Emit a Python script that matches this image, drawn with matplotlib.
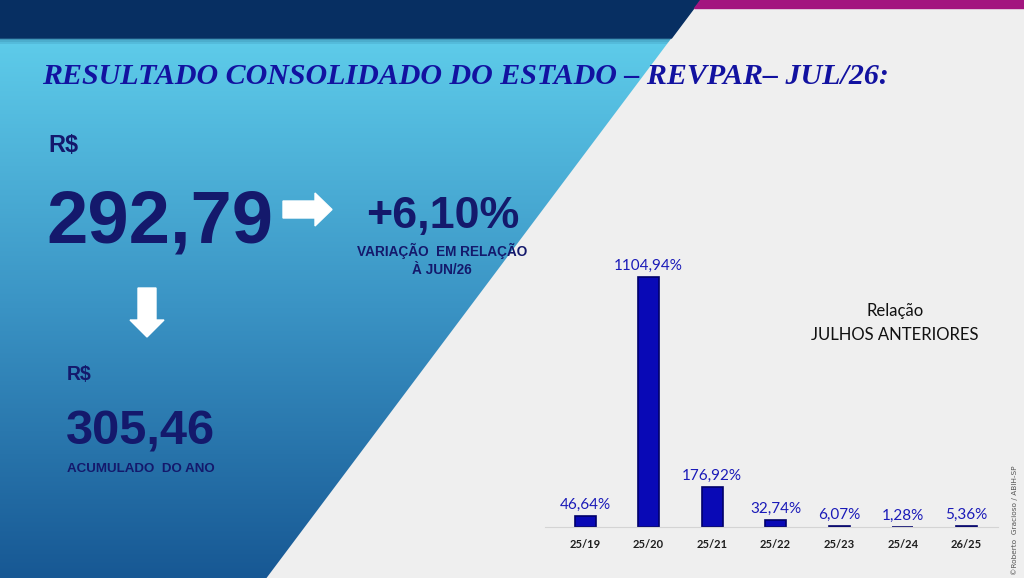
import matplotlib
matplotlib.use("Agg")
import matplotlib.pyplot as plt
import numpy as np
from matplotlib import font_manager
from matplotlib.font_manager import FontProperties
from matplotlib.patches import Polygon

# ---------------------------------------------------------------------------
# Data
# ---------------------------------------------------------------------------
periods = ["25/19", "25/20", "25/21", "25/22", "25/23", "25/24", "26/25"]
variation = [46.64, 1104.94, 176.92, 32.74, 6.07, 1.28, 5.36]
value_labels = ["46,64%", "1104,94%", "176,92%", "32,74%", "6,07%", "1,28%", "5,36%"]

title = "RESULTADO CONSOLIDADO DO ESTADO – REVPAR– JUL/26:"
revpar_month = "292,79"
revpar_var = "+6,10%"
revpar_year = "305,46"

W, H = 1024, 578
NAVY = "#14196c"


def narrow_bold():
    """Arial Narrow look-alike if installed, else Liberation Sans Bold."""
    for f in font_manager.fontManager.ttflist:
        if f.name == "Liberation Sans Narrow" and f.weight in (700, "bold") and f.style == "normal":
            return FontProperties(fname=f.fname)
    return FontProperties(family="Liberation Sans", weight="bold")


NB = narrow_bold()

fig = plt.figure(figsize=(W / 100, H / 100), dpi=100)
bg = fig.add_axes([0, 0, 1, 1])
bg.set_xlim(0, W); bg.set_ylim(H, 0); bg.axis("off")
bg.add_patch(plt.Rectangle((0, 0), W, H, color="#efefef", zorder=0))
renderer = fig.canvas.get_renderer()


def fit_text(s, x0, x1, y, **kw):
    """Left-aligned text on baseline y, sized so it spans x0..x1 pixels."""
    t = bg.text(x0, y, s, fontsize=10, va="baseline", zorder=3, **kw)
    w = t.get_window_extent(renderer).width
    t.set_fontsize(10 * (x1 - x0) / w)
    return t


# blue gradient triangle on the left, clipped by the diagonal
edge = lambda y: 700 - 0.75 * y
stops = np.array([[0x5e, 0xcc, 0xea], [0x3a, 0x93, 0xc4], [0x17, 0x58, 0x94]]) / 255
t = np.linspace(0, 1, 300)
grad = np.stack([np.interp(t, [0, 0.5, 1], stops[:, c]) for c in range(3)], axis=1)
img = bg.imshow(grad[:, None, :].repeat(2, axis=1), extent=(0, W, H, 38),
                aspect="auto", zorder=1)
tri = Polygon([(0, 38), (edge(38), 38), (edge(H), H), (0, H)], closed=True,
              transform=bg.transData, facecolor="none")
bg.add_patch(tri)
img.set_clip_path(tri)

# top bands
bg.add_patch(Polygon([(0, 0), (edge(0), 0), (edge(38), 38), (0, 38)],
                     color="#072f62", zorder=2))
for k, a in enumerate([0.35, 0.2, 0.1]):
    bg.add_patch(Polygon([(0, 38 + k * 2), (edge(38 + k * 2), 38 + k * 2),
                          (edge(40 + k * 2), 40 + k * 2), (0, 40 + k * 2)],
                         color="#0b3560", alpha=a, lw=0, zorder=2))
bg.add_patch(Polygon([(edge(0), 0), (W, 0), (W, 8), (edge(8), 8)],
                     color="#a3157f", zorder=2))

# title
fit_text(title, 42, 890, 84, family="Liberation Serif", weight="bold",
         style="italic", color="#1212a0")

# KPI block
fit_text("R$", 48, 78, 152, fontproperties=NB, color=NAVY)
fit_text(revpar_month, 46, 272, 243, fontproperties=NB, color=NAVY)
fit_text(revpar_var, 366, 520, 228, fontproperties=NB, color=NAVY)
fit_text("VARIAÇÃO  EM RELAÇÃO", 357, 527, 256, fontproperties=NB, color=NAVY)
fit_text("À JUN/26", 412, 472, 274, fontproperties=NB, color=NAVY)
fit_text("R$", 67, 92, 380, fontproperties=NB, color=NAVY)
fit_text(revpar_year, 66, 216, 444, fontproperties=NB, color=NAVY)
fit_text("ACUMULADO  DO ANO", 67, 215, 472, fontproperties=NB, color=NAVY)

# white arrows
bg.add_patch(Polygon([(283, 201), (315, 201), (315, 193), (332, 209.5), (315, 226),
                      (315, 218), (283, 218)], color="white", zorder=3))
bg.add_patch(Polygon([(138, 288), (156, 288), (156, 320), (164, 320), (147, 337),
                      (130, 320), (138, 320)], color="white", zorder=3))

# credit
bg.text(1015, 575, "©Roberto  Gracioso / ABIH-SP", rotation=90, fontsize=5.3,
        color="#555555", ha="center", va="bottom", family="DejaVu Sans", zorder=3)

# ---------------------------------------------------------------------------
# Bar chart
# ---------------------------------------------------------------------------
left, right, base, top = 545, 998, 527, 240
ax = fig.add_axes([left / W, 1 - base / H, (right - left) / W, (base - top) / H])
ax.patch.set_alpha(0)
x = np.arange(len(periods))
ax.bar(x, variation, width=0.33, color="#0909b6", edgecolor="#00006a",
       linewidth=1.2, zorder=2)
ax.set_xlim(-0.63, 6.5)
ax.set_ylim(0, 1104.94 * (base - top) / 250)
for xi, v, lab in zip(x, variation, value_labels):
    ax.annotate(lab, (xi, v), xytext=(0, 3), textcoords="offset points",
                ha="center", va="bottom", family="Lato", fontsize=11, color="#1a1ab8")
ax.set_xticks(x, periods)
ax.tick_params(axis="x", length=0, pad=9, labelsize=8)
for lbl in ax.get_xticklabels():
    lbl.set_fontweight("bold"); lbl.set_family("Lato"); lbl.set_color("#1e1e1e")
ax.set_yticks([])
for s in ["top", "left", "right"]:
    ax.spines[s].set_visible(False)
ax.spines["bottom"].set_color("#d4d4d4")

bg.text(895, 311, "Relação", family="Lato", fontsize=12, color="#111111",
        ha="center", va="center", zorder=3)
bg.text(895, 335, "JULHOS ANTERIORES", family="Lato", fontsize=12, color="#111111",
        ha="center", va="center", zorder=3)

fig.savefig("out.png", dpi=100)
